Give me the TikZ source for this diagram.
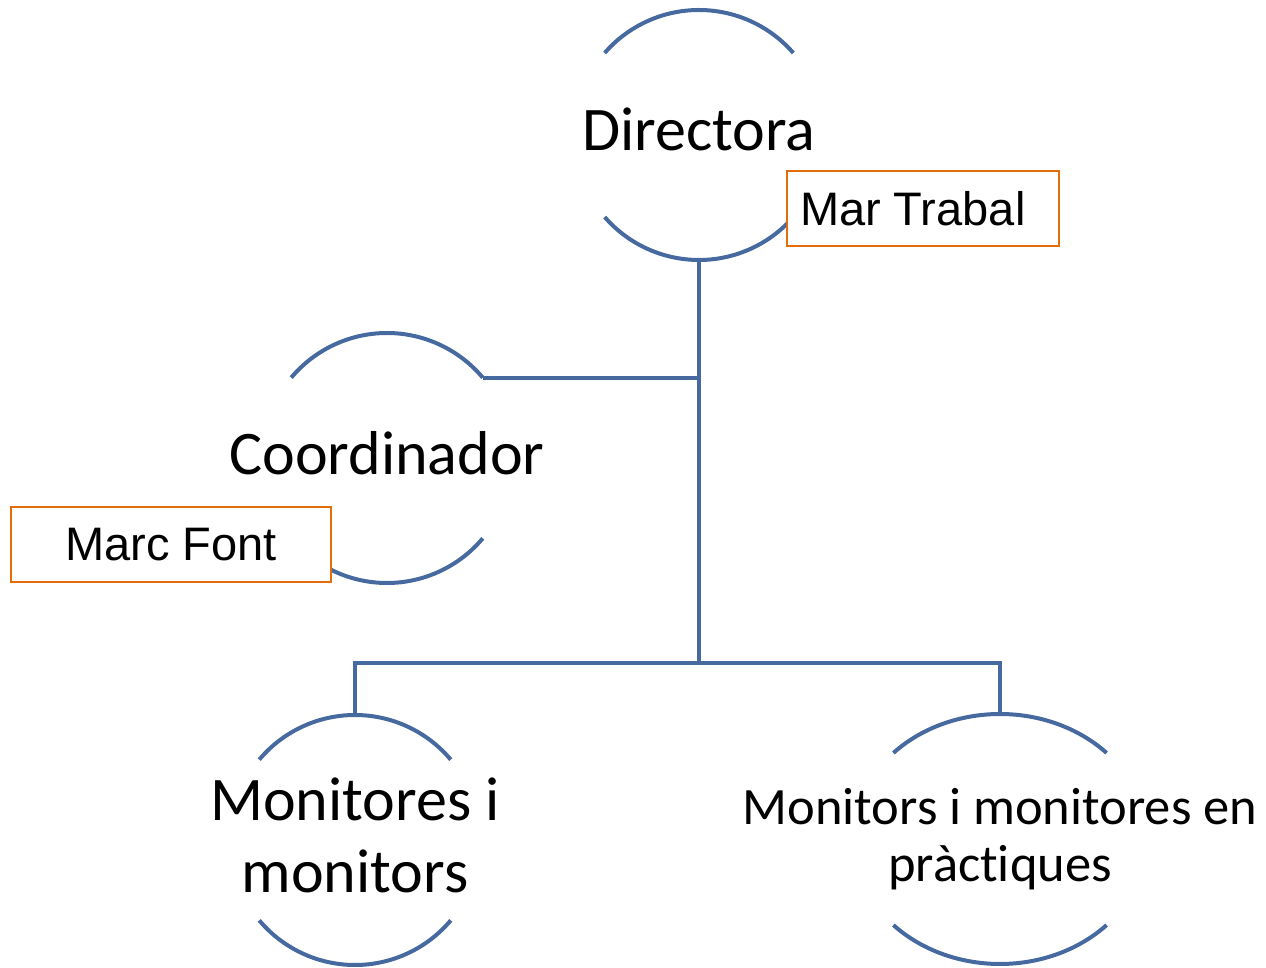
\documentclass[tikz,border=0pt]{standalone}
\usepackage{fontspec}
\usepackage{tikz}
\usetikzlibrary{calc}
\newfontfamily\calibri[Ligatures=NoCommon]{Carlito}
\newfontfamily\arial{Liberation Sans}
\definecolor{orgblue}{RGB}{70,106,160}
\definecolor{orgorange}{RGB}{228,108,10}
\tikzset{x = 1pt, y = 1pt,
  orgline/.style = {draw = orgblue, line width = 4pt},
  unit/.style = {font = \calibri\fontsize{62}{72}\selectfont, align = center, inner sep = 0},
  smallunit/.style = {unit, font = \calibri\fontsize{52.5}{57}\selectfont},
  namebox/.style = {draw = orgorange, line width = 2pt, fill = white, inner sep = 0,
    minimum height = 75pt, font = \arial\fontsize{47}{56}\selectfont}}

\begin{document}
\begin{tikzpicture}
  \useasboundingbox (0,0) rectangle (1266,967);
  % units
  \node (dir) [unit] at (699,838) {Directora};
  \node (coord) [unit] at (387,514) {Coordinador};
  \node (mon) [unit] at (355,132) {Monitores i\\monitors};
  \node (monp) [smallunit] at (1000,128) {Monitors i monitores en\\pràct\kern0pt iques};
  % arcs round the units
  \foreach \n/\a/\rx/\ry/\dy in {dir/41/125/125/-6, coord/40/125/125/-5, mon/40/125/125/-5, monp/43.5/147/125/0} {
    \draw [orgline] ([shift={({180-\a}:{\rx} and {\ry})}, yshift=\dy]\n.center)
      arc [start angle = 180-\a, end angle = \a, x radius = \rx, y radius = \ry];
    \draw [orgline] ([shift={({-180+\a}:{\rx} and {\ry})}, yshift=\dy]\n.center)
      arc [start angle = -180+\a, end angle = -\a, x radius = \rx, y radius = \ry];
  }
  % links
  \coordinate (split) at (699,304);
  \coordinate (coordend) at ([shift={(40:125)}, yshift=-5]coord.center);
  \draw [orgline] ([yshift=-131pt]dir.center) -- (split);
  \draw [orgline] (coordend) -- (coordend -| dir.center);
  \draw [orgline] ([yshift=120pt]mon.center) |- (split) -| ([yshift=125pt]monp.center);
  % names
  \node (mar) [namebox, inner xsep = 13pt] at (923,758.5) {\makebox[246pt][l]{Mar Trabal}};
  \node (marc) [namebox, minimum width = 320pt] at (171,422.5) {Marc Font};
\end{tikzpicture}
\end{document}
